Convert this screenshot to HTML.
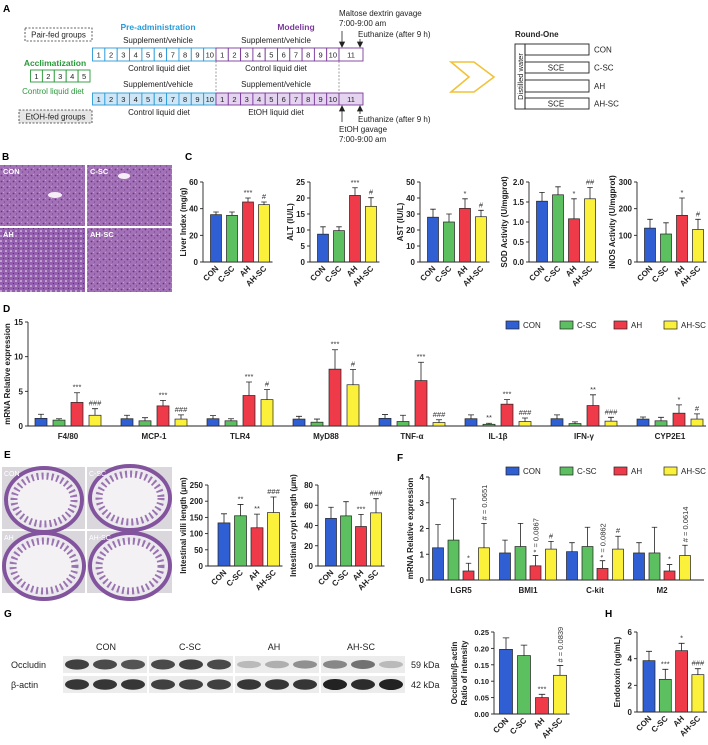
<!DOCTYPE html>
<html><head><meta charset="utf-8">
<style>
html,body{margin:0;padding:0;background:#fff;}
svg{display:block;font-family:"Liberation Sans",Arial,sans-serif;}
.t8{font-size:8px;fill:#222;}
.b{font-weight:bold;}
</style></head>
<body>
<svg id="fig" width="708" height="745" viewBox="0 0 708 745" xmlns="http://www.w3.org/2000/svg">
<defs>
<pattern id="he" width="6" height="6" patternUnits="userSpaceOnUse">
<rect width="6" height="6" fill="#a271b6"/>
<circle cx="1.5" cy="1.5" r="0.9" fill="#64388a"/>
<circle cx="4.5" cy="4" r="0.7" fill="#794a98"/>
<rect x="3" y="0" width="1" height="1" fill="#c19ccf"/>
</pattern>
<pattern id="fat" width="5" height="5" patternUnits="userSpaceOnUse">
<rect width="5" height="5" fill="#935fae"/>
<circle cx="1" cy="1" r="0.8" fill="#f4eef6"/>
<circle cx="3.5" cy="3.5" r="0.6" fill="#5d3278"/>
</pattern>
</defs>

<!-- Panel A -->
<g>
<text x="3" y="12" class="b" font-size="10">A</text>
<rect x="25" y="28" width="67" height="13" fill="none" stroke="#333" stroke-dasharray="2,1.5" stroke-width="0.8"/>
<text x="58.5" y="37.5" text-anchor="middle" class="t8">Pair-fed groups</text>
<rect x="19" y="110" width="73" height="13" fill="#e6e6e6" stroke="#333" stroke-dasharray="2,1.5" stroke-width="0.8"/>
<text x="55.5" y="119.5" text-anchor="middle" class="t8">EtOH-fed groups</text>
<text x="158" y="30" text-anchor="middle" font-size="8.5" class="b" fill="#2a9ad8">Pre-administration</text>
<text x="296" y="30" text-anchor="middle" font-size="8.5" class="b" fill="#7a3a9a">Modeling</text>
<text x="158" y="43" text-anchor="middle" class="t8">Supplement/vehicle</text>
<text x="276" y="43" text-anchor="middle" class="t8">Supplement/vehicle</text>
<text x="159" y="71" text-anchor="middle" class="t8">Control liquid diet</text>
<text x="276" y="71" text-anchor="middle" class="t8">Control liquid diet</text>
<text x="158" y="87" text-anchor="middle" class="t8">Supplement/vehicle</text>
<text x="276" y="87" text-anchor="middle" class="t8">Supplement/vehicle</text>
<text x="159" y="115" text-anchor="middle" class="t8">Control liquid diet</text>
<text x="276" y="115" text-anchor="middle" class="t8">EtOH liquid diet</text>
<text x="55" y="66" text-anchor="middle" font-size="8.5" class="b" fill="#2a9a3a">Acclimatization</text>
<text x="53" y="94" text-anchor="middle" font-size="8" fill="#2a9a3a">Control liquid diet</text>
<g id="timeline"></g>
<line x1="216" y1="61" x2="216" y2="93" stroke="#777" stroke-dasharray="2,1.5" stroke-width="0.7"/>
<line x1="339" y1="61" x2="339" y2="93" stroke="#777" stroke-dasharray="2,1.5" stroke-width="0.7"/>
<text x="339" y="16" class="t8">Maltose dextrin gavage</text>
<text x="339" y="26" class="t8">7:00-9:00 am</text>
<text x="358" y="37" class="t8">Euthanize (after 9 h)</text>
<text x="358" y="122" class="t8">Euthanize (after 9 h)</text>
<text x="339" y="132" class="t8">EtOH gavage</text>
<text x="339" y="142" class="t8">7:00-9:00 am</text>
<g stroke="#222" stroke-width="0.8" fill="#222">
<line x1="342" y1="31" x2="342" y2="44"/><path d="M339.5,42 L342,47 L344.5,42Z"/>
<line x1="360" y1="39" x2="360" y2="44"/><path d="M357.5,42 L360,47 L362.5,42Z"/>
<line x1="342" y1="110" x2="342" y2="122"/><path d="M339.5,111 L342,106 L344.5,111Z"/>
<line x1="360" y1="110" x2="360" y2="114"/><path d="M357.5,111 L360,106 L362.5,111Z"/>
</g>
<path d="M451,62 L474,62 L494,77 L474,92 L451,92 L469,77 Z" fill="none" stroke="#f2c23a" stroke-width="1.6"/>
<text x="515" y="37" class="b" font-size="8" fill="#222">Round-One</text>
<g stroke="#222" stroke-width="0.9" fill="none">
<rect x="515" y="44" width="10" height="65"/>
<rect x="525" y="44" width="64" height="11"/>
<rect x="525" y="62" width="64" height="11"/>
<rect x="525" y="80" width="64" height="12"/>
<rect x="525" y="98" width="64" height="11"/>
</g>
<text transform="translate(523,76.5) rotate(-90)" text-anchor="middle" font-size="7.5" fill="#222">Distilled water</text>
<text x="556" y="70.5" text-anchor="middle" class="t8">SCE</text>
<text x="556" y="106.5" text-anchor="middle" class="t8">SCE</text>
<text x="594" y="52.5" class="t8">CON</text>
<text x="594" y="70.5" class="t8">C-SC</text>
<text x="594" y="89" class="t8">AH</text>
<text x="594" y="106.5" class="t8">AH-SC</text>
</g>

<!-- Panel B -->
<g>
<text x="2" y="160" class="b" font-size="10">B</text>
<rect x="0" y="165" width="85" height="61" fill="url(#he)"/>
<rect x="87" y="165" width="85" height="61" fill="url(#he)"/>
<rect x="0" y="228" width="85" height="64" fill="url(#fat)"/>
<rect x="87" y="228" width="85" height="64" fill="url(#he)"/>
<ellipse cx="55" cy="195" rx="7" ry="3" fill="#f5eef6"/><ellipse cx="124" cy="176" rx="6" ry="3" fill="#f5eef6"/>
<text x="3" y="174" font-size="7.5" class="b" fill="#fff">CON</text>
<text x="90" y="174" font-size="7.5" class="b" fill="#fff">C-SC</text>
<text x="3" y="237" font-size="7.5" class="b" fill="#fff">AH</text>
<text x="90" y="237" font-size="7.5" class="b" fill="#fff">AH-SC</text>
</g>
<text x="185" y="160" class="b" font-size="10">C</text>
<text x="3" y="312" class="b" font-size="10">D</text>

<!-- Panel E images -->
<g>
<text x="4" y="458" class="b" font-size="10">E</text>
<g>
<rect x="2" y="467" width="83" height="62" fill="#d9d6dc"/><rect x="87" y="467" width="85" height="62" fill="#dad7dd"/>
<rect x="2" y="531" width="83" height="62" fill="#d9d6dc"/><rect x="87" y="531" width="85" height="62" fill="#dad7dd"/>
<ellipse cx="44" cy="500" rx="38" ry="32" fill="#ece9ee" stroke="#83549e" stroke-width="4"/>
<ellipse cx="44" cy="500" rx="30" ry="24" fill="#f3f1f4" stroke="#9a74b0" stroke-width="7" stroke-dasharray="2,3"/>
<ellipse cx="130" cy="498" rx="40" ry="32" fill="#ece9ee" stroke="#83549e" stroke-width="4"/>
<ellipse cx="130" cy="498" rx="31" ry="24" fill="#f3f1f4" stroke="#9a74b0" stroke-width="7" stroke-dasharray="2,3"/>
<ellipse cx="44" cy="566" rx="40" ry="33" fill="#ece9ee" stroke="#83549e" stroke-width="4"/>
<ellipse cx="44" cy="566" rx="31" ry="25" fill="#f3f1f4" stroke="#9a74b0" stroke-width="7" stroke-dasharray="2,3"/>
<ellipse cx="130" cy="566" rx="40" ry="33" fill="#ece9ee" stroke="#83549e" stroke-width="4"/>
<ellipse cx="130" cy="566" rx="31" ry="25" fill="#f3f1f4" stroke="#9a74b0" stroke-width="7" stroke-dasharray="2,3"/>
<text x="4" y="476" font-size="7" fill="#fff">CON</text>
<text x="89" y="476" font-size="7" fill="#fff">C-SC</text>
<text x="4" y="540" font-size="7" fill="#fff">AH</text>
<text x="89" y="540" font-size="7" fill="#fff">AH-SC</text>
</g>
</g>
<text x="397" y="461" class="b" font-size="10">F</text>

<!-- Panel G blot -->
<g>
<text x="4" y="617" class="b" font-size="10">G</text>
<text x="106" y="650" text-anchor="middle" font-size="9" fill="#222">CON</text>
<text x="190" y="650" text-anchor="middle" font-size="9" fill="#222">C-SC</text>
<text x="274" y="650" text-anchor="middle" font-size="9" fill="#222">AH</text>
<text x="361" y="650" text-anchor="middle" font-size="9" fill="#222">AH-SC</text>
<text x="11" y="668" font-size="9" fill="#222">Occludin</text>
<text x="11" y="688" font-size="9" fill="#222">β-actin</text>
<text x="411" y="668" font-size="9" fill="#222">59 kDa</text>
<text x="411" y="688" font-size="9" fill="#222">42 kDa</text>
<g id="blot"></g>
</g>
<text x="605" y="617" class="b" font-size="10">H</text>

<g id="charts"></g>
</svg>

<script>
// ---- Chart data ----
const groups = ['CON','C-SC','AH','AH-SC'];
const colors = ['#2f5fd2','#5cbf60','#ee3a49','#fbf03a'];

const liverVals = [35.5, 35, 45, 43];
const liverErrs = [2, 2.5, 3, 2];
const liverSig = ['', '', '***', '#'];
const liverTicks = [0, 20, 40, 60];

const altVals = [8.7, 9.8, 20.8, 17.4];
const altErrs = [2.3, 1.2, 2.4, 2.7];
const altSig = ['', '', '***', '#'];
const altTicks = [0, 5, 10, 15, 20, 25];

const astVals = [28, 25, 33.5, 28.3];
const astErrs = [5, 5, 6, 4];
const astSig = ['', '', '*', '#'];
const astTicks = [0, 10, 20, 30, 40, 50];

const sodVals = [1.52, 1.68, 1.08, 1.58];
const sodErrs = [0.22, 0.2, 0.5, 0.28];
const sodSig = ['', '', '*', '##'];
const sodTicks = [0, 0.5, 1.0, 1.5, 2.0];
const sodTickLabels = ['0.0','0.5','1.0','1.5','2.0'];

const inosVals = [127, 105, 175, 122];
const inosErrs = [33, 42, 65, 38];
const inosSig = ['', '', '*', '#'];
const inosTicks = [0, 100, 200, 300];

const dGenes = ['F4/80','MCP-1','TLR4','MyD88','TNF-α','IL-1β','IFN-γ','CYP2E1'];
const dCon   = [1.1, 1.05, 1.05, 1.0, 1.1, 1.05, 1.05, 1.0];
const dConE  = [0.6, 0.5, 0.45, 0.4, 0.55, 0.55, 0.55, 0.3];
const dCsc   = [0.85, 0.75, 0.75, 0.55, 0.65, 0.25, 0.35, 0.75];
const dCscE  = [0.2, 0.45, 0.3, 0.45, 0.9, 0.15, 0.25, 0.5];
const dAh    = [3.4, 2.9, 4.4, 8.2, 6.55, 3.15, 2.95, 1.85];
const dAhE   = [1.4, 0.8, 1.95, 2.8, 2.65, 0.65, 1.55, 1.2];
const dAhsc  = [1.55, 1.0, 3.8, 5.95, 0.5, 0.65, 0.7, 1.0];
const dAhscE = [0.95, 0.6, 1.45, 2.2, 0.4, 0.5, 0.55, 0.75];
const dCscSig  = ['', '', '', '', '', '**', '', ''];
const dAhSig   = ['***','***','***','***','***','***','**','*'];
const dAhscSig = ['###','###','#','#','###','###','###','#'];
const dTicks = [0, 5, 10, 15];

const villiVals = [133, 155, 118, 165];
const villiErrs = [28, 35, 42, 48];
const villiSig = ['', '**', '**', '###'];
const villiTicks = [0, 50, 100, 150, 200, 250];

const cryptVals = [47, 49.5, 39, 52.5];
const cryptErrs = [11, 14, 12, 14];
const cryptSig = ['', '', '***', '###'];
const cryptTicks = [0, 20, 40, 60, 80];

const fGenes = ['LGR5','BMI1','C-kit','M2'];
const fCon   = [1.25, 1.05, 1.1, 1.05];
const fConE  = [0.9, 0.5, 0.35, 0.4];
const fCsc   = [1.55, 1.3, 1.3, 1.05];
const fCscE  = [1.6, 0.9, 0.75, 1.0];
const fAh    = [0.35, 0.55, 0.45, 0.35];
const fAhE   = [0.3, 0.4, 0.3, 0.25];
const fAhsc  = [1.25, 1.2, 1.2, 0.95];
const fAhscE = [0.95, 0.3, 0.5, 0.4];
const fCscSig  = ['', '', '', ''];
const fAhSig   = ['*', 'r:* = 0.0867', 'r:* = 0.0862', '*'];
const fAhscSig = ['r:# = 0.0651', '#', '#', 'r:# = 0.0614'];
const fTicks = [0, 1, 2, 3, 4];

const occVals = [0.197, 0.178, 0.05, 0.118];
const occErrs = [0.035, 0.032, 0.01, 0.03];
const occSig = ['', '', '***', 'r:# = 0.0839'];
const occTicks = [0, 0.05, 0.10, 0.15, 0.20, 0.25];
const occTickLabels = ['0.00','0.05','0.10','0.15','0.20','0.25'];

const endoVals = [3.85, 2.45, 4.6, 2.8];
const endoErrs = [0.7, 0.75, 0.55, 0.45];
const endoSig = ['', '***', '*', '###'];
const endoTicks = [0, 2, 4, 6];

// ---- drawing helpers ----
const NS = 'http://www.w3.org/2000/svg';
const root = document.getElementById('charts');
function mk(tag, attrs, parent) {
  const e = document.createElementNS(NS, tag);
  for (const k in attrs) e.setAttribute(k, attrs[k]);
  (parent || root).appendChild(e);
  return e;
}
function txt(s, attrs, parent) { const t = mk('text', attrs, parent); t.textContent = s; return t; }

function drawBar(g, cx, bw, v, e, sig, color, sy, y0, name) {
  const yv = sy(v), ye = sy(v + e);
  const r = mk('rect', {x: cx - bw/2, y: yv, width: bw, height: Math.max(0, y0 - yv), fill: color, stroke: '#222', 'stroke-width': 0.7}, g);
  
  
  const el = mk('path', {d: `M${cx},${yv}V${ye}M${cx - bw/4},${ye}H${cx + bw/4}`, stroke: '#222', 'stroke-width': 0.8, fill: 'none'}, g);
  
  
  if (sig) {
    let t;
    if (sig.startsWith('r:')) {
      t = txt(sig.slice(2), {transform: `translate(${cx + 3},${ye - 3}) rotate(-90)`, 'font-size': 7.5, fill: '#333'}, g);
    } else {
      t = txt(sig, {x: cx, y: ye - 3, 'text-anchor': 'middle', 'font-size': 7.5, fill: '#333'}, g);
    }
    
    
  }
}

function axes(g, o, sy, xEnd) {
  mk('path', {d: `M${o.ax},${o.yT}V${o.y0}H${xEnd}`, stroke: '#222', 'stroke-width': 0.9, fill: 'none'}, g);
  o.ticks.forEach((t, i) => {
    mk('line', {x1: o.ax - 3, x2: o.ax, y1: sy(t), y2: sy(t), stroke: '#222', 'stroke-width': 0.9}, g);
    const lbl = txt(o.tickLabels ? o.tickLabels[i] : String(t), {x: o.ax - 5, y: sy(t) + 3, 'text-anchor': 'end', 'font-size': o.tf || 8, 'font-weight': 'bold', fill: '#222'}, g);
    
    
  });
  if (o.ylabel) {
    const lines = o.ylabel;
    lines.forEach((ln, i) => {
      const yl = txt(ln, {transform: `translate(${o.ylx + i * 10},${(o.yT + o.y0) / 2}) rotate(-90)`, 'text-anchor': 'middle', 'font-size': o.yf || 8, 'font-weight': 'bold', fill: '#222'}, g);
      
      
    });
  }
}

function simpleChart(name, o, vals, errs, sigs) {
  const g = mk('g', {});
  
  
  const sy = v => o.y0 - v / o.max * (o.y0 - o.yT);
  const xc = i => o.x0 + i * o.step;
  axes(g, o, sy, xc(3) + o.bw / 2 + 3);
  vals.forEach((v, i) => drawBar(g, xc(i), o.bw, v, errs[i], sigs[i], colors[i], sy, o.y0, name + '-bar-' + groups[i].toLowerCase()));
  groups.forEach((c, i) => {
    const t = txt(c, {transform: `translate(${xc(i) + 3},${o.y0 + 7}) rotate(-45)`, 'text-anchor': 'end', 'font-size': 8, 'font-weight': 'bold', fill: '#222'}, g);
    
    
  });
}

function groupedChart(name, o, cats, series, errsArr, sigsArr) {
  const g = mk('g', {});
  
  
  const sy = v => o.y0 - v / o.max * (o.y0 - o.yT);
  const gc = i => o.g0 + i * o.gstep;
  axes(g, o, sy, o.xEnd);
  cats.forEach((c, i) => {
    series.forEach((s, j) => drawBar(g, gc(i) + o.offs[j], o.bw, s[i], errsArr[j][i], sigsArr[j][i], colors[j], sy, o.y0, name + '-bar-' + j + '-' + i));
    const t = txt(c, {x: gc(i), y: o.y0 + 13, 'text-anchor': 'middle', 'font-size': 8, 'font-weight': 'bold', fill: '#222'}, g);
    
    
  });
  const lx = [506, 560, 614, 664];
  groups.forEach((c, j) => {
    const lg = mk('g', {}, g);
    
    
    mk('rect', {x: lx[j], y: o.ly - 4, width: 13, height: 8, fill: colors[j], stroke: '#222', 'stroke-width': 0.7}, lg);
    txt(c, {x: lx[j] + 17, y: o.ly + 3, 'font-size': 8, fill: '#222'}, lg);
  });
}

// ---- Panel C ----
const cBase = {yT: 182, y0: 262, bw: 11, step: 16, tf: 8};
simpleChart('liver-index-chart', Object.assign({}, cBase, {ax: 203, x0: 216, max: 60, ticks: liverTicks, ylabel: ['Liver Index (mg/g)'], ylx: 186}), liverVals, liverErrs, liverSig);
simpleChart('alt-chart', Object.assign({}, cBase, {ax: 310, x0: 323, max: 25, ticks: altTicks, ylabel: ['ALT (IU/L)'], ylx: 293}), altVals, altErrs, altSig);
simpleChart('ast-chart', Object.assign({}, cBase, {ax: 420, x0: 433, max: 50, ticks: astTicks, ylabel: ['AST (IU/L)'], ylx: 403}), astVals, astErrs, astSig);
simpleChart('sod-chart', Object.assign({}, cBase, {ax: 529, x0: 542, max: 2, ticks: sodTicks, tickLabels: sodTickLabels, ylabel: ['SOD Activity (U/mgprot)'], ylx: 507}), sodVals, sodErrs, sodSig);
simpleChart('inos-chart', Object.assign({}, cBase, {ax: 637, x0: 650, max: 300, ticks: inosTicks, ylabel: ['iNOS Activity (U/mgprot)'], ylx: 615}), inosVals, inosErrs, inosSig);

// ---- Panel D ----
groupedChart('liver-mrna-chart', {ax: 28, yT: 322, y0: 426, max: 15, ticks: dTicks, ylabel: ['mRNA Relative expression'], ylx: 10, yf: 8,
  g0: 68, gstep: 86, offs: [-27, -9, 9, 27], bw: 12, xEnd: 706, ly: 325},
  dGenes, [dCon, dCsc, dAh, dAhsc], [dConE, dCscE, dAhE, dAhscE], [['','','','','','','',''], dCscSig, dAhSig, dAhscSig]);

// ---- Panel E charts ----
simpleChart('villi-length-chart', {ax: 208, x0: 224, step: 16.5, bw: 12, yT: 485, y0: 566, max: 250, ticks: villiTicks, ylabel: ['Intestinal villi length (μm)'], ylx: 186}, villiVals, villiErrs, villiSig);
simpleChart('crypt-length-chart', {ax: 318, x0: 331, step: 15, bw: 11, yT: 485, y0: 566, max: 80, ticks: cryptTicks, ylabel: ['Intestinal crypt length (μm)'], ylx: 296}, cryptVals, cryptErrs, cryptSig);

// ---- Panel F ----
groupedChart('intestine-mrna-chart', {ax: 429, yT: 477, y0: 580, max: 4, ticks: fTicks, ylabel: ['mRNA Relative expression'], ylx: 413, yf: 8,
  g0: 461, gstep: 67, offs: [-23, -7.5, 7.5, 23], bw: 11, xEnd: 704, ly: 471},
  fGenes, [fCon, fCsc, fAh, fAhsc], [fConE, fCscE, fAhE, fAhscE], [['','','',''], fCscSig, fAhSig, fAhscSig]);

// ---- Panel G chart ----
simpleChart('occludin-ratio-chart', {ax: 494, x0: 506, step: 18, bw: 13, yT: 632, y0: 714, max: 0.25, ticks: occTicks, tickLabels: occTickLabels, tf: 7.5, ylabel: ['Occludin/β-actin', 'Ratio of intensity'], ylx: 457}, occVals, occErrs, occSig);

// ---- Panel H ----
simpleChart('endotoxin-chart', {ax: 637, x0: 649, step: 16.3, bw: 12, yT: 632, y0: 712, max: 6, ticks: endoTicks, ylabel: ['Endotoxin (ng/mL)'], ylx: 620}, endoVals, endoErrs, endoSig);

// ---- Timeline (panel A) ----
const tl = document.getElementById('timeline');
function cellRow(y, h, x0, n, w, stroke, fill, prefix) {
  for (let i = 0; i < n; i++) {
    const r = mk('rect', {x: x0 + i * w, y: y, width: w, height: h, fill: fill, stroke: stroke, 'stroke-width': 0.9}, tl);
    
    
    txt(String(i + 1), {x: x0 + i * w + w / 2, y: y + h / 2 + 3, 'text-anchor': 'middle', 'font-size': 7.5, fill: '#222'}, tl);
  }
}
cellRow(48, 13, 92.5, 10, 12.35, '#2a9ad8', '#fff', 'pair-pre');
cellRow(48, 13, 216, 10, 12.3, '#7a3a9a', '#fff', 'pair-model');
cellRow(93, 12, 92.5, 10, 12.35, '#2a9ad8', '#cfe6f6', 'etoh-pre');
cellRow(93, 12, 216, 10, 12.3, '#7a3a9a', '#e4d4ef', 'etoh-model');
cellRow(70, 12, 30.5, 5, 11.9, '#2a9a3a', '#fff', 'acclim');
[[48,13,'#fff'],[93,12,'#e4d4ef']].forEach(([y,h,f]) => {
  const r = mk('rect', {x: 339, y: y, width: 24, height: h, fill: f, stroke: '#7a3a9a', 'stroke-width': 0.9}, tl);
  
  
  txt('11', {x: 351, y: y + h / 2 + 3, 'text-anchor': 'middle', 'font-size': 7.5, fill: '#222'}, tl);
});

// ---- Western blot ----
const blot = document.getElementById('blot');
const panelsX = [63, 149, 235, 321];
const occInt = [[0.85,0.8,0.75],[0.8,0.85,0.8],[0.25,0.3,0.45],[0.5,0.6,0.25]];
const actInt = [[0.9,0.9,0.9],[0.85,0.85,0.85],[0.9,0.9,0.9],[1,0.95,1]];
panelsX.forEach((px, p) => {
  [[656, occInt], [676, actInt]].forEach(([y, arr]) => {
    mk('rect', {x: px, y: y, width: 84, height: 17, fill: '#ececec'}, blot);
    for (let k = 0; k < 3; k++) {
      const a = arr[p][k];
      mk('ellipse', {cx: px + 14 + k * 28, cy: y + 8.5, rx: 12, ry: 3 + a * 2.5, fill: '#222', 'fill-opacity': a}, blot);
    }
  });
});
</script>
</body></html>
